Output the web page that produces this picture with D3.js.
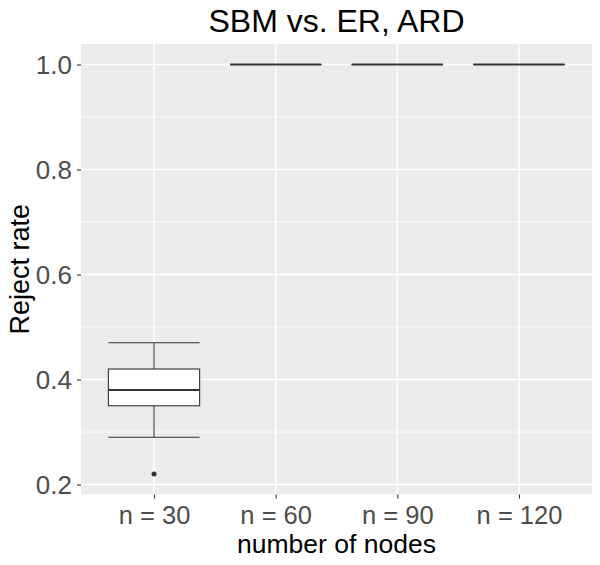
<!DOCTYPE html>
<html>
<head>
<meta charset="utf-8">
<script src="https://cdn.jsdelivr.net/npm/d3@7"></script>
<style>
  body { margin: 0; background: #fff; }
  svg { display: block; font-family: "Liberation Sans", Arial, sans-serif; }
</style>
</head>
<body>
<div class="chart"></div>
<script>
'use strict';

// Box summaries per group
const groups = ["n = 30", "n = 60", "n = 90", "n = 120"];
const whiskerLow = [0.29, 1.0, 1.0, 1.0];
const q1 = [0.35, 1.0, 1.0, 1.0];
const median = [0.38, 1.0, 1.0, 1.0];
const q3 = [0.42, 1.0, 1.0, 1.0];
const whiskerHigh = [0.47, 1.0, 1.0, 1.0];
const outliers = [[0.22], [], [], []];

const yTicks = [0.2, 0.4, 0.6, 0.8, 1.0];
const yMinor = [0.3, 0.5, 0.7, 0.9];

document.addEventListener('DOMContentLoaded', () => {

  // Canvas size
  const width = 600, height = 565;
  const margin = {top: 44, left: 81, right: 8, bottom: 70.5};
  const w = width - margin.left - margin.right;
  const h = height - margin.top - margin.bottom;

  const svg = d3.select(".chart")
    .append("svg")
    .attr("width", width)
    .attr("height", height);

  const g = svg.append("g")
    .attr("transform", `translate(${margin.left}, ${margin.top})`);

  // ggplot-like expansion: 5% on continuous, 0.6 on discrete
  const allVals = whiskerLow.concat(whiskerHigh, outliers.flat());
  const lo = d3.min(allVals), hi = d3.max(allVals);
  const pad = (hi - lo) * 0.05;
  const y = d3.scaleLinear().domain([lo - pad, hi + pad]).range([h, 0]);

  const x = d3.scalePoint().domain(groups).range([0, w]).padding(0.6);
  const step = x.step();
  const boxW = step * 0.75;

  // panel background
  g.append("rect")
    .attr("width", w)
    .attr("height", h)
    .attr("fill", "#EBEBEB");

  // grid lines
  g.selectAll(".minor")
    .data(yMinor)
    .enter()
    .append("line")
    .attr("x1", 0).attr("x2", w)
    .attr("y1", d => y(d)).attr("y2", d => y(d))
    .attr("stroke", "#fff")
    .attr("stroke-width", 0.75);

  g.selectAll(".major")
    .data(yTicks)
    .enter()
    .append("line")
    .attr("x1", 0).attr("x2", w)
    .attr("y1", d => y(d)).attr("y2", d => y(d))
    .attr("stroke", "#fff")
    .attr("stroke-width", 1.5);

  g.selectAll(".vgrid")
    .data(groups)
    .enter()
    .append("line")
    .attr("x1", d => x(d)).attr("x2", d => x(d))
    .attr("y1", 0).attr("y2", h)
    .attr("stroke", "#fff")
    .attr("stroke-width", 1.5);

  // axes
  const yAxis = d3.axisLeft(y).tickValues(yTicks).tickFormat(d3.format(".1f")).tickSize(4).tickPadding(5);
  const xAxis = d3.axisBottom(x).tickSize(4);

  const ya = g.append("g").call(yAxis);
  const xa = g.append("g").attr("transform", `translate(0,${h})`).call(xAxis);
  [ya, xa].forEach(a => {
    a.select(".domain").remove();
    a.selectAll(".tick line").attr("stroke", "#333333").attr("stroke-width", 1.1);
    a.selectAll(".tick text")
      .attr("fill", "#4D4D4D")
      .style("font-family", "'Liberation Sans', Arial, sans-serif");
  });
  ya.selectAll(".tick text").attr("dy", "0.36em").style("font-size", "26px");
  xa.selectAll(".tick text").attr("y", 29).attr("dy", 0).style("font-size", "25.5px");

  // boxes
  const rows = groups.map((k, i) => ({
    k, lo: whiskerLow[i], q1: q1[i], med: median[i], q3: q3[i], hi: whiskerHigh[i], out: outliers[i]
  }));

  const bx = g.selectAll(".box")
    .data(rows)
    .enter()
    .append("g");

  // whisker stems
  bx.append("line")
    .attr("x1", d => x(d.k)).attr("x2", d => x(d.k))
    .attr("y1", d => y(d.hi)).attr("y2", d => y(d.q3))
    .attr("stroke", "#333333").attr("stroke-width", 1.1);
  bx.append("line")
    .attr("x1", d => x(d.k)).attr("x2", d => x(d.k))
    .attr("y1", d => y(d.q1)).attr("y2", d => y(d.lo))
    .attr("stroke", "#333333").attr("stroke-width", 1.1);

  // whisker caps (errorbar)
  ["lo", "hi"].forEach(key => {
    bx.append("line")
      .attr("x1", d => x(d.k) - boxW / 2).attr("x2", d => x(d.k) + boxW / 2)
      .attr("y1", d => y(d[key])).attr("y2", d => y(d[key]))
      .attr("stroke", "#333333").attr("stroke-width", 1.1);
  });

  bx.append("rect")
    .attr("x", d => x(d.k) - boxW / 2)
    .attr("y", d => y(d.q3))
    .attr("width", boxW)
    .attr("height", d => y(d.q1) - y(d.q3))
    .attr("fill", "#fff")
    .attr("stroke", "#333333")
    .attr("stroke-width", 1.1);

  bx.append("line")
    .attr("x1", d => x(d.k) - boxW / 2).attr("x2", d => x(d.k) + boxW / 2)
    .attr("y1", d => y(d.med)).attr("y2", d => y(d.med))
    .attr("stroke", "#333333").attr("stroke-width", 2.2);

  bx.selectAll("circle")
    .data(d => d.out.map(v => ({k: d.k, v})))
    .enter()
    .append("circle")
    .attr("cx", d => x(d.k))
    .attr("cy", d => y(d.v))
    .attr("r", 2.5)
    .attr("fill", "#333333");

  // titles
  svg.append("text")
    .attr("x", margin.left + w / 2)
    .attr("y", 32)
    .attr("text-anchor", "middle")
    .style("font-size", "32px")
    .attr("fill", "#000")
    .text("SBM vs. ER, ARD");

  svg.append("text")
    .attr("x", margin.left + w / 2)
    .attr("y", 553)
    .attr("text-anchor", "middle")
    .style("font-size", "26.5px")
    .attr("fill", "#000")
    .text("number of nodes");

  svg.append("text")
    .attr("transform", `translate(29, ${margin.top + h / 2}) rotate(-90)`)
    .attr("text-anchor", "middle")
    .style("font-size", "27px")
    .attr("fill", "#000")
    .text("Reject rate");
});
</script>
</body>
</html>
